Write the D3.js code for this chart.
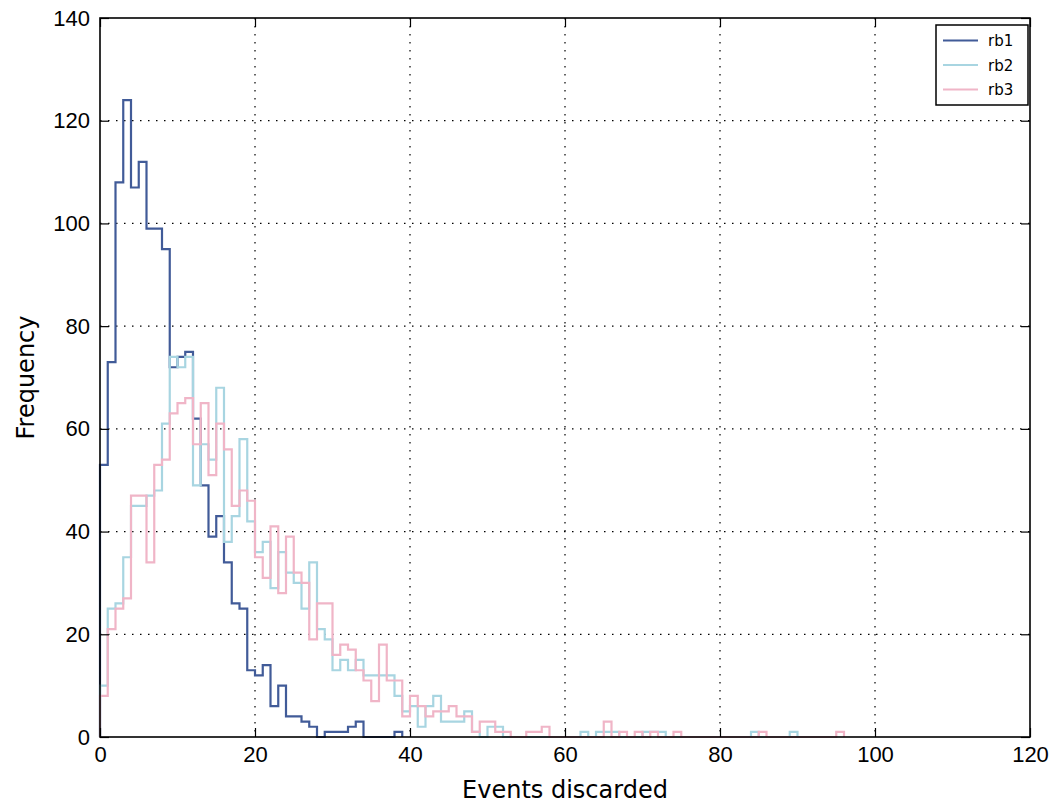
<!DOCTYPE html>
<html>
<head>
<meta charset="utf-8">
<script src="https://cdn.jsdelivr.net/npm/d3@7"></script>
<style>
  body { margin: 0; background: #fff; }
  svg { font-family: "DejaVu Sans", sans-serif; }
  .axis text { font-size: 22px; fill: #000; }
  .axis path, .axis line { stroke: #000; }
</style>
</head>
<body>
<svg width="1057" height="804"></svg>
<script>
// step histograms, bin width 1, first bin starts at 0

var rb1 = [53, 73, 108, 124, 107, 112, 99, 99, 95, 72, 74, 75, 62, 49, 39, 43, 34, 26, 25, 13,
  12, 14, 6, 10, 4, 4, 3, 2, 0, 1, 1, 1, 2, 3, 0, 0, 0, 0, 1];

var rb2 = [10, 25, 26, 35, 45, 45, 47, 48, 61, 74, 72, 74, 49, 57, 54, 68, 38, 43, 58, 42,
  36, 38, 29, 36, 32, 30, 25, 34, 21, 19, 13, 15, 13, 15, 12, 12, 12, 12, 8, 5,
  6, 2, 6, 8, 3, 3, 3, 5, 1, 0, 2, 2, 0, 0, 0, 0, 0, 0, 0, 0,
  0, 0, 1, 0, 1, 1, 1, 0, 0, 0, 1, 1, 1, 0, 0, 0, 0, 0, 0, 0,
  0, 0, 0, 0, 1, 0, 0, 0, 0, 1];

var rb3 = [8, 21, 25, 27, 47, 47, 34, 53, 54, 63, 65, 66, 57, 65, 51, 61, 56, 45, 48, 46,
  35, 31, 41, 28, 39, 32, 30, 19, 26, 26, 16, 18, 17, 13, 11, 7, 18, 11, 11, 4,
  8, 6, 4, 5, 5, 6, 4, 4, 1, 3, 3, 1, 1, 0, 0, 1, 1, 2, 0, 0,
  0, 0, 0, 0, 0, 3, 0, 1, 0, 1, 0, 1, 0, 0, 1, 0, 0, 0, 0, 0,
  0, 0, 0, 0, 0, 1, 0, 0, 0, 0, 0, 0, 0, 0, 0, 1];

var names = ["rb1", "rb2", "rb3"];
var colors = ["#415b98", "#a8d5e1", "#f0b5c7"];
var xTicks = [0, 20, 40, 60, 80, 100, 120];
var yTicks = [0, 20, 40, 60, 80, 100, 120, 140];

var svg = d3.select("svg"),
  margin = {top: 18, right: 27, bottom: 67, left: 100},
  width = +svg.attr("width") - margin.left - margin.right,
  height = +svg.attr("height") - margin.top - margin.bottom,
  g = svg.append("g").attr("transform", "translate(" + margin.left + "," + margin.top + ")");

var x = d3.scaleLinear().domain([0, 120]).range([0, width]);
var y = d3.scaleLinear().domain([0, 140]).range([height, 0]);

// grid
g.append("g").selectAll("line")
  .data(xTicks.slice(1, -1))
  .enter().append("line")
  .attr("x1", function (d) { return x(d); })
  .attr("x2", function (d) { return x(d); })
  .attr("y1", 0).attr("y2", height)
  .attr("stroke", "#000").attr("stroke-width", 1.2)
  .attr("stroke-dasharray", "1.5,6.5");

g.append("g").selectAll("line")
  .data(yTicks.slice(1, -1))
  .enter().append("line")
  .attr("y1", function (d) { return y(d); })
  .attr("y2", function (d) { return y(d); })
  .attr("x1", 0).attr("x2", width)
  .attr("stroke", "#000").attr("stroke-width", 1.2)
  .attr("stroke-dasharray", "1.5,6.5");

// histograms
var line = d3.line()
  .x(function (d) { return x(d[0]); })
  .y(function (d) { return y(d[1]); })
  .curve(d3.curveStepAfter);

[rb1, rb2, rb3].forEach(function (counts, i) {
  var pts = [[0, 0]];
  counts.forEach(function (v, k) { pts.push([k, v]); });
  pts.push([counts.length, counts[counts.length - 1]]);
  pts.push([counts.length, 0]);
  g.append("path")
    .datum(pts)
    .attr("fill", "none")
    .attr("stroke", colors[i])
    .attr("stroke-width", 2.2)
    .attr("d", line);
});

// axes, ticks inward on all four sides
g.append("g")
  .attr("class", "axis")
  .attr("transform", "translate(0," + height + ")")
  .call(d3.axisBottom(x).tickValues(xTicks).tickSize(-9).tickPadding(9).tickSizeOuter(0));

g.append("g")
  .attr("class", "axis")
  .call(d3.axisLeft(y).tickValues(yTicks).tickSize(-9).tickPadding(10).tickSizeOuter(0));

g.append("g")
  .attr("class", "axis")
  .call(d3.axisTop(x).tickValues(xTicks).tickSize(-9).tickFormat("").tickSizeOuter(0));

g.append("g")
  .attr("class", "axis")
  .attr("transform", "translate(" + width + ",0)")
  .call(d3.axisRight(y).tickValues(yTicks).tickSize(-9).tickFormat("").tickSizeOuter(0));

g.selectAll(".axis .domain").remove();
g.selectAll(".axis line").attr("stroke-width", 1.2);

g.append("rect")
  .attr("width", width).attr("height", height)
  .attr("fill", "none").attr("stroke", "#000").attr("stroke-width", 1.6);

// axis labels
svg.append("text")
  .attr("x", margin.left + width / 2)
  .attr("y", 798)
  .attr("text-anchor", "middle")
  .style("font-size", "24px")
  .text("Events discarded");

svg.append("text")
  .attr("transform", "translate(34," + (margin.top + height / 2) + ") rotate(-90)")
  .attr("text-anchor", "middle")
  .style("font-size", "24px")
  .text("Frequency");

// legend
var lg = svg.append("g").attr("transform", "translate(936,25)");
lg.append("rect")
  .attr("width", 92).attr("height", 80)
  .attr("fill", "#fff").attr("stroke", "#000").attr("stroke-width", 1.5);

names.forEach(function (n, i) {
  var ly = 15.5 + i * 24.5;
  lg.append("line")
    .attr("x1", 7).attr("x2", 42)
    .attr("y1", ly).attr("y2", ly)
    .attr("stroke", colors[i]).attr("stroke-width", 2.2);
  lg.append("text")
    .attr("x", 52).attr("y", ly + 5.5)
    .style("font-size", "15px")
    .text(n);
});
</script>
</body>
</html>
